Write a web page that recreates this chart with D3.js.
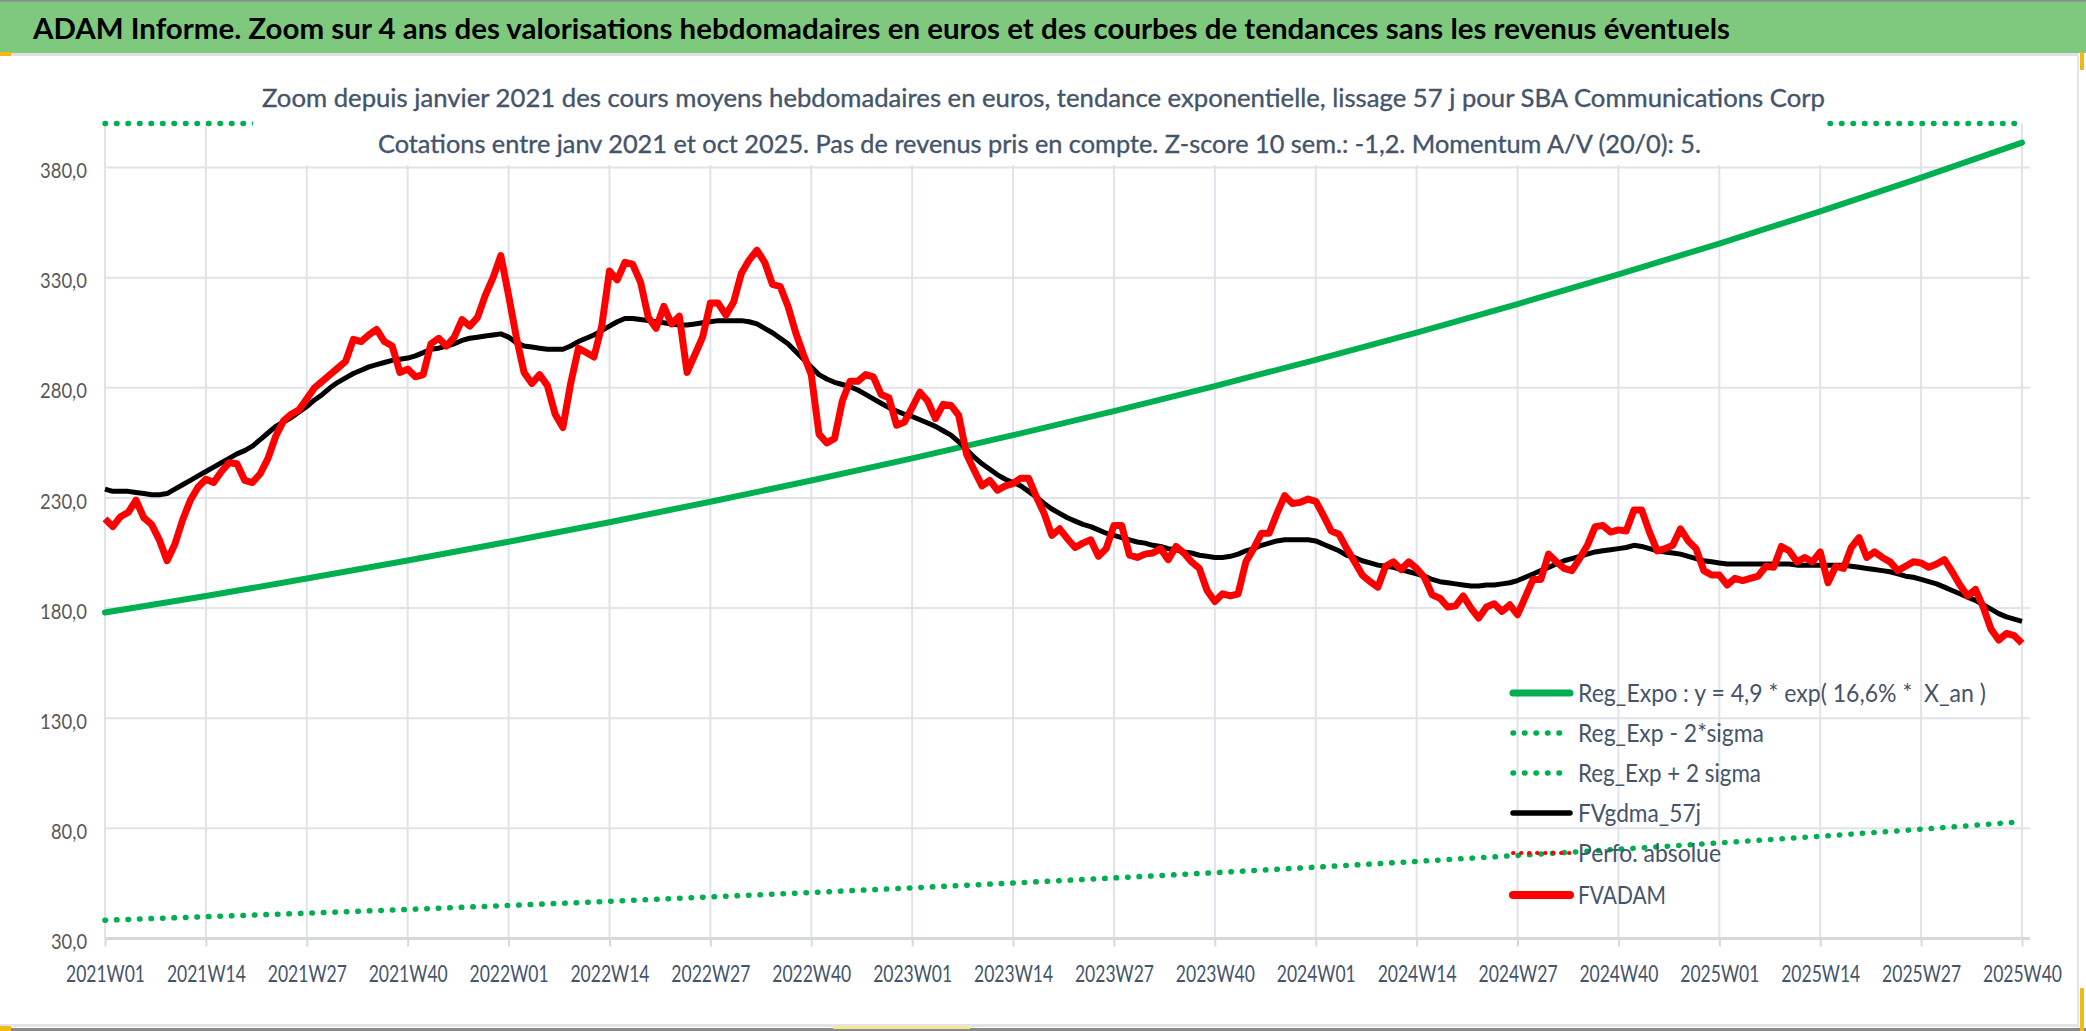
<!DOCTYPE html>
<html>
<head>
<meta charset="utf-8">
<script src="https://cdn.jsdelivr.net/npm/d3@7/dist/d3.min.js"></script>
<style>
  html, body { margin: 0; padding: 0; background: #ffffff; }
  svg { display: block; }
  text { white-space: pre; }
</style>
</head>
<body>
<svg id="chart" width="2086" height="1031"></svg>
<script>
// ---------------- DATA ----------------
const titleText = "ADAM Informe. Zoom sur 4 ans des valorisations hebdomadaires en euros et des courbes de tendances sans les revenus éventuels";
const subtitle1 = "Zoom depuis janvier 2021 des cours moyens hebdomadaires en euros, tendance exponentielle, lissage 57 j pour SBA Communications Corp";
const subtitle2 = "Cotations entre janv 2021 et oct 2025. Pas de revenus pris en compte. Z-score 10 sem.: -1,2. Momentum A/V (20/0): 5.";

const tickLabels = ["2021W01","2021W14","2021W27","2021W40","2022W01","2022W14","2022W27","2022W40",
  "2023W01","2023W14","2023W27","2023W40","2024W01","2024W14","2024W27","2024W40",
  "2025W01","2025W14","2025W27","2025W40"];

const yTicks = [30, 80, 130, 180, 230, 280, 330, 380];

// weekly categories 2021W01 .. 2025W40
const weeks = [];
[2021, 2022, 2023, 2024, 2025].forEach(y => {
  const last = y === 2025 ? 40 : 52;
  for (let w = 1; w <= last; w++) weeks.push(y + "W" + String(w).padStart(2, "0"));
});

// FVADAM weekly values (euros)
const fvadam = [
  220.5, 217, 221.5, 223.5, 229, 221, 218, 211, 201.5, 209,
  220, 229, 235, 238.5, 237, 242, 246, 245.5, 238, 237,
  241, 248, 258, 265, 268, 270, 275, 280, 283, 286,
  289, 292, 302, 301, 304, 306.5, 301, 299, 287, 288.5,
  285, 286, 300, 302.5, 299, 303, 311, 308, 312, 322,
  330, 340, 322, 303, 287, 282, 286, 281, 268, 262,
  282, 298, 296, 294, 308, 333, 329, 337, 336, 328,
  312, 307, 317, 309, 312.5, 287, 295, 303, 318.5, 318.5,
  313, 319, 332, 338, 342.5, 337, 327, 326, 317, 305,
  295, 286, 259, 255, 257, 274, 283, 283, 286, 285,
  277, 275.5, 263, 264.5, 271, 278, 274, 266, 272.5, 272,
  267.5, 250, 242.5, 235.5, 238, 233.5, 235.5, 236.5, 239, 239,
  230.5, 223, 213, 216, 211.5, 207.5, 209.5, 211, 203.5, 207,
  217.5, 217.5, 204, 203, 204.5, 205, 207, 202, 208, 205,
  201, 198, 188, 183, 186.5, 185.5, 186.5, 201, 207, 214,
  214, 223, 231, 227.5, 228, 229.5, 228.5, 222, 215, 213.5,
  207, 201, 195, 192, 189.5, 199, 201, 197.5, 201, 198,
  194, 186, 184.5, 180.5, 181, 185.5, 180, 175.5, 180.5, 182,
  178.5, 181.5, 177, 185, 193, 193, 204.5, 201, 198, 197,
  202.5, 208.5, 217, 217.5, 214.5, 215.5, 215, 224.5, 224.5, 214.5,
  206, 207, 208.5, 216, 210.5, 207, 197, 195, 195, 190.5,
  193.5, 192.5, 193.5, 194.5, 199, 198.5, 208, 206, 201, 203,
  201, 205.5, 191.5, 199, 198, 207.5, 212, 203, 205.5, 203,
  201, 197, 199, 201, 200.5, 198.5, 200, 202, 196.5, 190.5,
  185.5, 188.5, 180.5, 170.5, 165.5, 168.5, 167.5, 164
];

// FVgdma_57j weekly values (smoothed)
const fvgdma = [
  234, 233, 233, 233, 232.5, 232, 231.5, 231.5, 232, 234,
  236, 238, 240, 242, 244, 246, 248, 250, 251.5, 253.5,
  256.5, 259.5, 262.5, 264.5, 266.5, 269, 271.5, 274.5, 277, 280,
  282.5, 284.5, 286.5, 288, 289.5, 290.5, 291.5, 292.5, 293, 293.5,
  294.5, 296, 297.5, 298, 299, 300, 301.5, 302.5, 303, 303.5,
  304, 304.5, 303, 300.5, 299, 298.5, 298, 297.5, 297.5, 297.5,
  299, 301, 302.5, 304, 306, 308, 310, 311.5, 311.5, 311,
  310.5, 310, 309.5, 309, 308.5, 308.5, 309, 309.5, 310, 310.5,
  310.5, 310.5, 310.5, 310, 309, 307, 305, 302.5, 300, 296.5,
  293, 289.5, 286, 284, 282.5, 281.5, 280.5, 279, 277, 275,
  273, 271, 269.5, 268, 267, 265.5, 264, 262.5, 260.5, 258.5,
  255.5, 252, 248.5, 245.5, 243, 240.5, 238.5, 237, 235.5, 233,
  230.5, 227.5, 225, 223, 221, 219.5, 218, 217, 215.5, 214,
  213, 212, 211, 210, 209.5, 208.5, 208, 207, 206.5, 205.5,
  205, 204, 203.5, 203, 203, 203.5, 204.5, 206, 207, 208.5,
  209.5, 210.5, 211, 211, 211, 211, 210.5, 209, 207.5, 206,
  204, 203, 201.5, 200.5, 199.5, 199, 198.5, 197.5, 196.5, 195.5,
  194.5, 193, 192, 191.5, 191, 190.5, 190, 190, 190.5, 190.5,
  191, 191.5, 192.5, 194, 195.5, 197, 198.5, 200, 201.5, 202.5,
  203.5, 204.5, 205.5, 206, 206.5, 207, 207.5, 208.5, 208, 207,
  206, 205.5, 205, 204.5, 203.5, 202.5, 201.5, 201, 200.5, 200,
  200, 200, 200, 200, 200, 200, 200, 200, 199.5, 199.5,
  199.5, 199.5, 199.5, 199.5, 199.5, 199, 198.5, 198, 197.5, 197,
  196.5, 195.5, 194.5, 194, 193, 192, 191, 189.5, 188, 186.5,
  185, 183.5, 181.5, 179.5, 177.5, 176, 175, 174
];

// Trend lines read at each labelled week (every 13 weeks)
const regExpo = [178.0, 185.5, 193.4, 201.6, 210.1, 219.0, 228.3, 237.9, 248.0, 258.5,
  269.4, 280.8, 292.7, 305.1, 318.0, 331.5, 345.5, 360.1, 375.4, 391.3];
const regExpMinus = [38.3, 39.9, 41.5, 43.2, 45.0, 46.9, 48.9, 50.9, 53.0, 55.2,
  57.5, 59.9, 62.4, 65.0, 67.7, 70.5, 73.4, 76.4, 79.6, 83.0];
const regExpPlus = [819, 853, 890, 927, 966, 1007, 1050, 1094, 1141, 1189,
  1239, 1292, 1346, 1403, 1463, 1525, 1589, 1656, 1727, 1800];

const legendLabels = ["Reg_Expo : y = 4,9 * exp( 16,6% *  X_an )", "Reg_Exp - 2*sigma", "Reg_Exp + 2 sigma",
  "FVgdma_57j", "Perfo. absolue", "FVADAM"];

// ---------------- DRAW ----------------
const FONT = "Lato,'Open Sans','Noto Sans',sans-serif";
const svg = d3.select("#chart");
const W = 2086, H = 1031;

const GREEN = "#00b050", RED = "#ff0000", BLACK = "#000000";
const TXT = "#44546a";

// frame
svg.append("rect").attr("x", 0).attr("y", 0).attr("width", W).attr("height", H).attr("fill", "#ffffff");
svg.append("rect").attr("x", 0).attr("y", 0).attr("width", W).attr("height", 53).attr("fill", "#7fc97e");
svg.append("line").attr("x1", 0).attr("x2", W).attr("y1", 0.75).attr("y2", 0.75).attr("stroke", "#8a8a8a").attr("stroke-width", 1.5);
svg.append("rect").attr("x", 0).attr("y", 53).attr("width", 2079).attr("height", 3).attr("fill", "#dde0e6");
svg.append("rect").attr("x", 2077).attr("y", 53).attr("width", 2).attr("height", 975).attr("fill", "#e2e4e8");
svg.append("rect").attr("x", 0).attr("y", 1024).attr("width", 2079).attr("height", 3).attr("fill", "#e2e4e8");
svg.append("rect").attr("x", 0).attr("y", 1028).attr("width", W).attr("height", 3).attr("fill", "#8a8a8a");
// selection handles
svg.append("rect").attr("x", 0).attr("y", 52).attr("width", 11).attr("height", 4).attr("fill", "#f2b90f");
svg.append("rect").attr("x", 2080).attr("y", 52).attr("width", 4).attr("height", 18).attr("fill", "#f2b90f");
svg.append("rect").attr("x", 2080).attr("y", 988).attr("width", 4).attr("height", 43).attr("fill", "#f2b90f");
svg.append("rect").attr("x", 0).attr("y", 1026).attr("width", 11).attr("height", 5).attr("fill", "#f2b90f");
svg.append("rect").attr("x", 833).attr("y", 1026).attr("width", 137).attr("height", 3).attr("fill", "#f7e98c");

// title
svg.append("text").attr("x", 33).attr("y", 39)
  .attr("font-family", FONT).attr("font-size", 28).attr("font-weight", "bold").attr("fill", "#000")
  .attr("textLength", 1697).attr("lengthAdjust", "spacingAndGlyphs").text(titleText);

// scales
const x = d3.scalePoint().domain(weeks).range([105, 2022]);
const y = d3.scaleLinear().domain([30, 400]).range([938.5, 123.5]).clamp(true);
const plotRight = 2030;

// horizontal gridlines
svg.append("g").selectAll("line").data(yTicks.slice(1)).join("line")
  .attr("x1", 105).attr("x2", plotRight)
  .attr("y1", d => y(d)).attr("y2", d => y(d))
  .attr("stroke", "#e0e3e9").attr("stroke-width", 2);

// vertical gridlines
svg.append("g").selectAll("line").data(tickLabels).join("line")
  .attr("x1", d => x(d)).attr("x2", d => x(d))
  .attr("y1", y(400)).attr("y2", y(30))
  .attr("stroke", "#e0e3e9").attr("stroke-width", 2);

// x axis
const xAxis = d3.axisBottom(x).tickValues(tickLabels).tickSize(8).tickPadding(19);
const gx = svg.append("g").attr("transform", `translate(0,${y(30)})`).call(xAxis);
gx.select(".domain").attr("stroke", "#d6d8dc").attr("stroke-width", 3).attr("d", `M105,0H${plotRight}`);
gx.selectAll(".tick line").attr("stroke", "#d6d8dc").attr("stroke-width", 2);
gx.selectAll(".tick text").attr("font-family", FONT).attr("font-size", 23).attr("fill", TXT)
  .attr("dy", "0.71em")
  .attr("textLength", 79).attr("lengthAdjust", "spacingAndGlyphs");

// y axis labels
const yAxis = d3.axisLeft(y).tickValues(yTicks).tickSize(0).tickPadding(18)
  .tickFormat(d => d3.format(".1f")(d).replace(".", ","));
const gy = svg.append("g").attr("transform", "translate(105,0)").call(yAxis);
gy.select(".domain").remove();
gy.selectAll(".tick text").attr("font-family", FONT).attr("font-size", 21).attr("fill", "#595959")
  .attr("dy", "0.48em")
  .attr("textLength", d => d >= 100 ? 47 : 36).attr("lengthAdjust", "spacingAndGlyphs");

// lines
const trendLine = d3.line().x((d, i) => x(tickLabels[i])).y(d => y(d));
const weekLine = d3.line().x((d, i) => x(weeks[i])).y(d => y(d));

const defs = svg.append("defs");
defs.append("clipPath").attr("id", "plotclip").append("rect")
  .attr("x", 95).attr("y", y(400) - 4).attr("width", 1945).attr("height", y(30) - y(400) + 8);
const plot = svg.append("g").attr("clip-path", "url(#plotclip)");

plot.append("path").datum(regExpo).attr("d", trendLine)
  .attr("fill", "none").attr("stroke", GREEN).attr("stroke-width", 6).attr("stroke-linecap", "round");
plot.append("path").datum(regExpMinus).attr("d", trendLine)
  .attr("fill", "none").attr("stroke", GREEN).attr("stroke-width", 5.5)
  .attr("stroke-dasharray", "0.5 11").attr("stroke-linecap", "round");
plot.append("path").datum(regExpPlus).attr("d", trendLine)
  .attr("fill", "none").attr("stroke", GREEN).attr("stroke-width", 5.5)
  .attr("stroke-dasharray", "0.5 11").attr("stroke-linecap", "round");
plot.append("path").datum(fvgdma).attr("d", weekLine)
  .attr("fill", "none").attr("stroke", BLACK).attr("stroke-width", 5).attr("stroke-linejoin", "round");
plot.append("path").datum(fvadam).attr("d", weekLine)
  .attr("fill", "none").attr("stroke", RED).attr("stroke-width", 7).attr("stroke-linejoin", "round");

// subtitle box (white, hides what is behind)
svg.append("rect").attr("x", 253).attr("y", 62).attr("width", 1573).attr("height", 103).attr("fill", "#ffffff");
svg.append("text").attr("x", 262).attr("y", 107)
  .attr("font-family", FONT).attr("font-size", 25).attr("fill", TXT)
  .attr("stroke", TXT).attr("stroke-width", 0.35)
  .attr("textLength", 1563).attr("lengthAdjust", "spacingAndGlyphs").text(subtitle1);
svg.append("text").attr("x", 378).attr("y", 153)
  .attr("font-family", FONT).attr("font-size", 25).attr("fill", TXT)
  .attr("stroke", TXT).attr("stroke-width", 0.35)
  .attr("textLength", 1323).attr("lengthAdjust", "spacingAndGlyphs").text(subtitle2);

// legend
const legendY = [693, 733, 773, 813, 853, 895];
const legendW = [408, 186, 183, 123, 143, 88];
const legendStyle = [
  { c: GREEN, w: 7, dash: null },
  { c: GREEN, w: 5.5, dash: "0.5 11" },
  { c: GREEN, w: 5.5, dash: "0.5 11" },
  { c: BLACK, w: 5.5, dash: null },
  { c: RED, w: 4, dash: "0.5 7.5" },
  { c: RED, w: 8, dash: null }
];
const lg = svg.append("g");
legendLabels.forEach((lab, i) => {
  const s = legendStyle[i];
  const ln = lg.append("line").attr("x1", 1513).attr("x2", 1570)
    .attr("y1", legendY[i]).attr("y2", legendY[i])
    .attr("stroke", s.c).attr("stroke-width", s.w).attr("stroke-linecap", "round");
  if (s.dash) ln.attr("stroke-dasharray", s.dash);
  lg.append("text").attr("x", 1578).attr("y", legendY[i] + 9)
    .attr("font-family", FONT).attr("font-size", 25).attr("fill", TXT)
    .attr("textLength", legendW[i]).attr("lengthAdjust", "spacingAndGlyphs").text(lab);
});
</script>
</body>
</html>
